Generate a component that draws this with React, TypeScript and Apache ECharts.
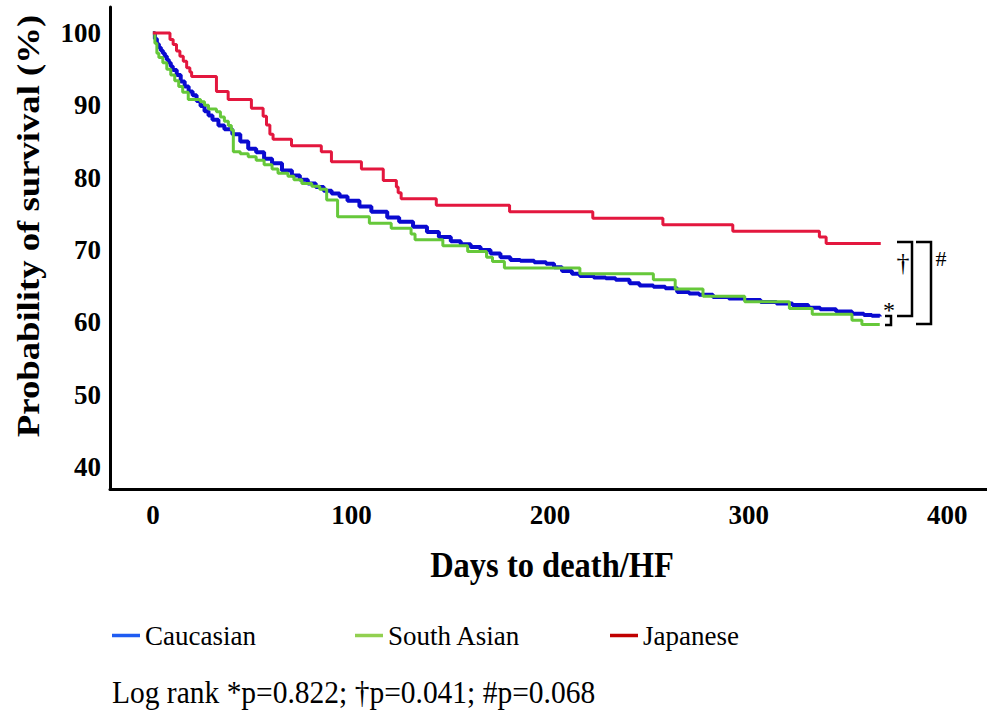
import React, { useEffect, useRef } from "react";
import * as echarts from "echarts";

const FONT = '"Liberation Serif", "Times New Roman", Times, serif';

const xTicks = [0, 100, 200, 300, 400];
const yTicks = [40, 50, 60, 70, 80, 90, 100];

const caucasianDays = [0, 1, 2, 3, 4, 5, 6, 7, 8, 9, 10, 12, 14, 16, 18, 20, 22, 24, 26, 28, 30, 33, 36, 40, 44, 48, 52, 56, 60, 65, 70, 74, 78, 82, 86, 90, 94, 98, 104, 110, 118, 124, 131, 138, 144, 150, 155, 160, 165, 170, 175, 180, 185, 192, 198, 202, 206, 211, 215, 222, 228, 233, 240, 245, 252, 258, 264, 270, 275, 282, 290, 298, 306, 314, 322, 330, 336, 344, 352, 358, 362, 366];
const caucasianSurv = [100, 99.2, 98.5, 98.0, 97.6, 97.2, 96.8, 96.3, 95.9, 95.4, 94.9, 94.2, 93.3, 92.6, 91.9, 91.4, 90.6, 89.9, 89.2, 88.6, 88.0, 87.2, 86.7, 86.0, 85.0, 84.0, 83.5, 82.6, 82.0, 81.0, 80.3, 79.7, 79.2, 78.7, 78.2, 77.8, 77.4, 76.8, 76.0, 75.3, 74.5, 73.9, 73.2, 72.5, 71.8, 71.2, 70.8, 70.4, 70.0, 69.5, 69.0, 68.6, 68.5, 68.3, 68.1, 67.6, 67.1, 66.7, 66.4, 66.2, 66.1, 65.9, 65.4, 65.1, 64.9, 64.7, 64.2, 64.0, 63.8, 63.5, 63.3, 63.1, 62.8, 62.6, 62.4, 62.0, 61.8, 61.5, 61.2, 61.0, 60.9, 60.8];

const southAsianDays = [0, 1, 2, 3, 5, 7, 9, 11, 13, 15, 17.8, 24, 26, 28, 32, 34, 36, 38, 39.5, 40.5, 44, 48, 52, 56, 60, 63, 68, 71, 75, 80, 84, 87.5, 93, 109, 120, 130, 132, 146, 158.5, 168, 171, 177, 215, 252, 263, 277, 298, 320.5, 332, 352, 357, 366];
const southAsianSurv = [100, 98.6, 97.2, 96.6, 95.9, 95.0, 94.2, 93.4, 92.6, 91.8, 90.8, 90.5, 90.0, 89.5, 89.1, 88.4, 87.8, 87.2, 86.6, 83.6, 83.3, 82.9, 82.4, 81.8, 81.2, 80.6, 80.2, 79.7, 79.2, 78.8, 78.4, 76.9, 74.6, 73.7, 73.0, 72.2, 71.4, 70.6, 69.8, 69.0, 68.4, 67.5, 66.7, 65.9, 64.6, 63.6, 62.85, 61.9, 61.1, 60.3, 59.7, 59.7];

const japaneseDays = [0, 8.6, 10.2, 11.9, 13.6, 15.3, 17, 18.6, 19.5, 32, 37.9, 49.6, 55.5, 57.2, 58.9, 60.5, 69.8, 84.8, 89.9, 105, 116, 122.6, 123.5, 125, 142.7, 179.6, 221.5, 256.8, 292, 335.6, 339, 366.5];
const japaneseSurv = [100, 99.1, 98.4, 97.5, 96.8, 96.1, 95.2, 94.6, 94.0, 91.9, 90.8, 89.6, 88.5, 87.3, 86.0, 85.3, 84.4, 83.6, 82.2, 81.2, 79.6, 78.7, 77.9, 77.1, 76.2, 75.3, 74.4, 73.5, 72.6, 71.8, 70.9, 70.9];

const groupNames = ["Caucasian", "South Asian", "Japanese"];
const curveColors = ["#0a0ad0", "#66c83a", "#e3173e"];
const legendColors = ["#1f5cf2", "#92d050", "#c00000"];

const zip = (a: number[], b: number[]) => a.map((d, i) => [d, b[i]]);

export default function App() {
  const ref = useRef<HTMLDivElement>(null);
  useEffect(() => {
    if (!ref.current) return;
    const chart = echarts.init(ref.current, null, { renderer: "svg" });
    const seriesData = [
      zip(caucasianDays, caucasianSurv),
      zip(southAsianDays, southAsianSurv),
      zip(japaneseDays, japaneseSurv),
    ];
    const legendLefts = [112, 355, 610];
    const bracket = (pts: number[][]) => ({
      type: "polyline",
      shape: { points: pts },
      style: { stroke: "#000", lineWidth: 2.5, fill: null },
    });
    const option: any = {
      animation: false,
      backgroundColor: "#fff",
      grid: { left: 110, right: 0, top: 7, bottom: 224 },
      xAxis: {
        type: "value",
        min: -21.6,
        max: 420,
        axisLine: { show: true, onZero: false, lineStyle: { color: "#000", width: 3 } },
        axisTick: { show: false },
        splitLine: { show: false },
        axisLabel: {
          customValues: xTicks,
          fontFamily: FONT,
          fontWeight: "bold",
          fontSize: 27,
          color: "#000",
          margin: 12,
        },
      },
      yAxis: {
        type: "value",
        min: 36.95,
        max: 103.6,
        axisLine: { show: true, onZero: false, lineStyle: { color: "#000", width: 3 } },
        axisTick: { show: false },
        splitLine: { show: false },
        axisLabel: {
          customValues: yTicks,
          fontFamily: FONT,
          fontWeight: "bold",
          fontSize: 27,
          color: "#000",
          margin: 9,
        },
      },
      legend: groupNames.map((name, i) => ({
        data: [{ name, itemStyle: { color: legendColors[i] }, lineStyle: { color: legendColors[i] } }],
        left: legendLefts[i],
        top: 622,
        padding: 0,
        icon: "rect",
        itemWidth: 28,
        itemHeight: 3.5,
        selectedMode: false,
        textStyle: { fontFamily: FONT, fontSize: 27, color: "#000" },
      })),
      series: groupNames.map((name, i) => ({
        name,
        type: "line",
        step: "end",
        data: seriesData[i],
        showSymbol: false,
        symbol: "none",
        color: curveColors[i],
        lineStyle: { color: curveColors[i], width: i === 0 ? 4 : 3 },
      })),
      graphic: [
        {
          type: "text",
          x: 28,
          y: 226,
          rotation: Math.PI / 2,
          scaleX: 1.147,
          style: {
            text: "Probability of survival (%)",
            font: `bold 32px ${FONT}`,
            fill: "#000",
            align: "center",
            verticalAlign: "middle",
          },
        },
        {
          type: "text",
          x: 552,
          y: 565,
          scaleY: 1.1,
          style: {
            text: "Days to death/HF",
            font: `bold 32.5px ${FONT}`,
            fill: "#000",
            align: "center",
            verticalAlign: "middle",
          },
        },
        {
          type: "text",
          x: 112,
          y: 693,
          scaleY: 1.08,
          style: {
            text: "Log rank *p=0.822; \u2020p=0.041; #p=0.068",
            font: `29.5px ${FONT}`,
            fill: "#000",
            align: "left",
            verticalAlign: "middle",
          },
        },
        bracket([[885, 316], [891, 316], [891, 325], [885, 325]]),
        bracket([[897, 242], [912, 242], [912, 316], [897, 316]]),
        bracket([[916, 242], [931, 242], [931, 324], [916, 324]]),
        {
          type: "text",
          x: 889,
          y: 310,
          style: { text: "*", font: `24px ${FONT}`, fill: "#000", align: "center", verticalAlign: "middle" },
        },
        {
          type: "text",
          x: 903,
          y: 262,
          style: { text: "\u2020", font: `26px ${FONT}`, fill: "#000", align: "center", verticalAlign: "middle" },
        },
        {
          type: "text",
          x: 941,
          y: 258,
          style: { text: "#", font: `22px ${FONT}`, fill: "#000", align: "center", verticalAlign: "middle" },
        },
      ],
    };
    chart.setOption(option);
    return () => chart.dispose();
  }, []);
  return (
    <div
      ref={ref}
      style={{ position: "fixed", left: 0, top: 0, width: 987, height: 713, background: "#fff" }}
    />
  );
}
